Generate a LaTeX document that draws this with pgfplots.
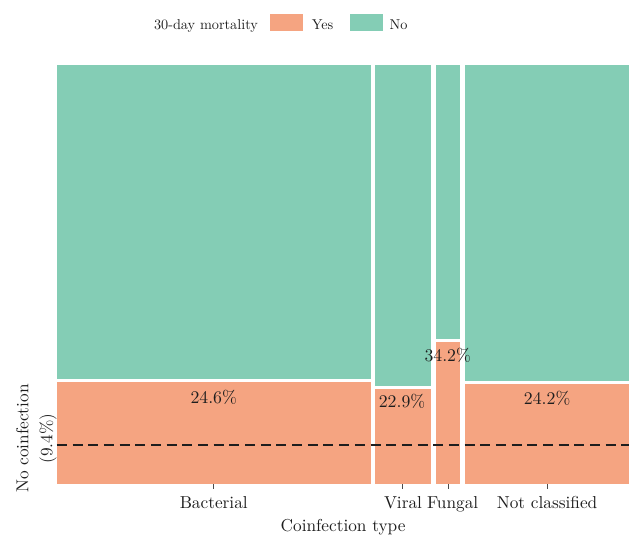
\documentclass[border=0pt]{standalone}
\usepackage{pgfplots}
\pgfplotsset{compat=1.18}
\usepackage{fontspec}
\setmainfont{lmroman10-regular.otf}
\definecolor{yescol}{RGB}{245,164,129}
\definecolor{nocol}{RGB}{132,205,181}
\definecolor{txt}{RGB}{30,30,30}
\begin{document}
\begin{tikzpicture}
\begin{axis}[
  at={(0pt,0pt)}, anchor=south west,
  scale only axis, width=573pt, height=420pt,
  xmin=57, xmax=630, ymin=0, ymax=1.0075,
  axis line style={draw=none},
  xtick pos=bottom, ytick pos=left,
  xtick={214,403.5,448.75,547.75},
  xticklabels={Bacterial,Viral\hspace{11pt},\hspace{9pt}Fungal,Not classified},
  major tick length=0pt,
  xticklabel style={font=\fontsize{17.3}{21}\selectfont, text=txt, anchor=base, yshift=-24pt},
  ytick={0.134},
  yticklabels={{No coinfection\\(9.4\%)}},
  yticklabel style={rotate=90, anchor=south, align=center, inner sep=0pt, xshift=-10pt,
    font=\fontsize{17.3}{24}\selectfont, text=txt},
  clip=false,
]
% Yes (bottom) segments: widths proportional to group size, heights = mortality share
\addplot[fill=yescol, draw=none] coordinates {(57,0) (371,0) (371,0.246) (57,0.246)} -- cycle;
\addplot[fill=yescol, draw=none] coordinates {(375.5,0) (431.5,0) (431.5,0.229) (375.5,0.229)} -- cycle;
\addplot[fill=yescol, draw=none] coordinates {(436.5,0) (461,0) (461,0.342) (436.5,0.342)} -- cycle;
\addplot[fill=yescol, draw=none] coordinates {(465.5,0) (630,0) (630,0.242) (465.5,0.242)} -- cycle;
% No (top) segments
\addplot[fill=nocol, draw=none] coordinates {(57,0.2535) (371,0.2535) (371,1.0075) (57,1.0075)} -- cycle;
\addplot[fill=nocol, draw=none] coordinates {(375.5,0.2365) (431.5,0.2365) (431.5,1.0075) (375.5,1.0075)} -- cycle;
\addplot[fill=nocol, draw=none] coordinates {(436.5,0.3495) (461,0.3495) (461,1.0075) (436.5,1.0075)} -- cycle;
\addplot[fill=nocol, draw=none] coordinates {(465.5,0.2495) (630,0.2495) (630,1.0075) (465.5,1.0075)} -- cycle;
% No-coinfection reference line
\addplot[draw=txt, line width=1.6pt, dash pattern=on 10pt off 5.7pt] coordinates {(57,0.094) (630,0.094)};
% tick marks
\pgfplotsinvokeforeach{214,403.5,448.75,547.75}{
  \draw[txt!80, line width=1pt] (axis cs:#1,0) -- ++(0pt,-4.5pt);
}
% percentage labels
\node[font=\fontsize{17.8}{22}\selectfont, text=txt] at (axis cs:214,0.209) {24.6\%};
\node[font=\fontsize{17.8}{22}\selectfont, text=txt] at (axis cs:402.5,0.200) {22.9\%};
\node[font=\fontsize{17.8}{22}\selectfont, text=txt] at (axis cs:448.3,0.310) {34.2\%};
\node[font=\fontsize{17.8}{22}\selectfont, text=txt] at (axis cs:547.8,0.206) {24.2\%};
\end{axis}
% axis title
\node[anchor=base, font=\fontsize{17.3}{21}\selectfont, text=txt] at (286.5pt,-47pt) {Coinfection type};
% legend
\node[anchor=base west, inner sep=0pt, font=\fontsize{14.3}{17}\selectfont, text=txt] at (97pt,455.7pt) {30-day mortality};
\fill[yescol] (213pt,454pt) rectangle (246pt,471pt);
\node[anchor=base west, inner sep=0pt, font=\fontsize{14.3}{17}\selectfont, text=txt] at (255pt,455.7pt) {Yes};
\fill[nocol] (293pt,454pt) rectangle (326pt,471pt);
\node[anchor=base west, inner sep=0pt, font=\fontsize{14.3}{17}\selectfont, text=txt] at (333pt,455.7pt) {No};
\useasboundingbox (-57pt,-51pt) rectangle (573pt,485pt);
\end{tikzpicture}
\end{document}
